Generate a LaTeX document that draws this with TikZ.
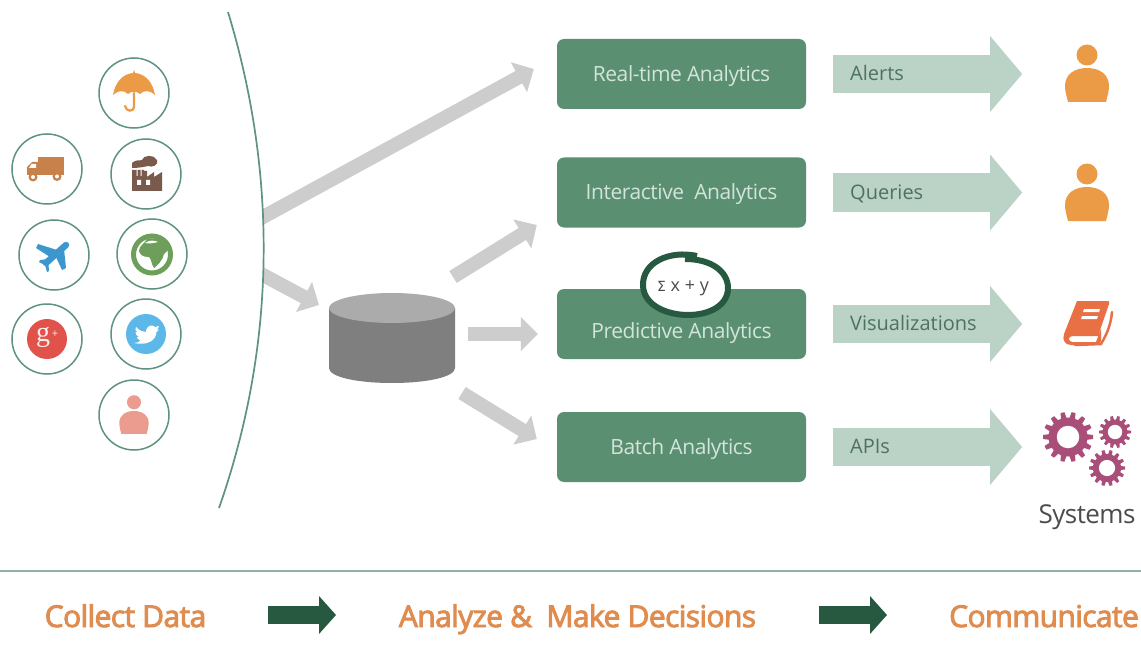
\documentclass[tikz,border=0pt]{standalone}
\usepackage{fontspec}
\setmainfont{Open Sans}
\newfontfamily\tightf[LetterSpace=-2]{Open Sans}
\newfontfamily\semib[FakeBold=3,LetterSpace=-2]{Open Sans}
\usetikzlibrary{arrows.meta}
\definecolor{ringc}{HTML}{5F9280}
\definecolor{boxc}{HTML}{5A8F72}
\definecolor{boxt}{HTML}{D3E4DA}
\definecolor{lightc}{HTML}{BBD2C6}
\definecolor{lightt}{HTML}{4E7262}
\definecolor{grayc}{HTML}{CDCDCD}
\definecolor{darkg}{HTML}{26593F}
\definecolor{orangec}{HTML}{EB9A45}
\definecolor{botc}{HTML}{E08C4E}
\definecolor{salmon}{HTML}{EC9C8E}
\definecolor{brownc}{HTML}{C8814A}
\definecolor{factc}{HTML}{7B5A4E}
\definecolor{planec}{HTML}{3D97CF}
\definecolor{globec}{HTML}{6E9F5A}
\definecolor{gred}{HTML}{E0524A}
\definecolor{twc}{HTML}{5CB8E8}
\definecolor{bookc}{HTML}{E96F45}
\definecolor{gearc}{HTML}{A84E78}
\definecolor{dbbody}{HTML}{7F7F7F}
\definecolor{dbtop}{HTML}{ABABAB}
\tikzset{
  ring/.style={circle,draw=ringc,line width=1.5pt,minimum size=70pt,inner sep=0pt},
  abox/.style={rounded corners=7pt,fill=boxc,text=boxt,minimum width=249pt,minimum height=70pt,text height=0pt,text depth=0pt,font=\tightf\fontsize{21}{24}\selectfont,inner sep=0pt},
  grayarrow/.style={draw=grayc,line width=14pt,-{Triangle[length=17pt,width=33pt]}},
  lightarrow/.style={draw=lightc,line width=38pt,-{Triangle[length=32pt,width=74pt]}},
  lighttext/.style={text=lightt,font=\fontsize{20}{24}\selectfont,anchor=west,inner sep=0pt},
  bottext/.style={text=botc,text height=0pt,text depth=0pt,font=\semib\fontsize{30}{34}\selectfont,inner sep=0pt},
  darkarrow/.style={draw=darkg,line width=18pt,-{Triangle[length=17pt,width=37pt]}},
  pics/personicon/.style={code={
    \fill[#1] (0,-19) circle (10.5);
    \fill[#1] (-19,28) -- (19,28) .. controls (21,20) and (22,16) .. (22,12)
      .. controls (22,0) and (12,-6) .. (0,-6) .. controls (-12,-6) and (-22,0) .. (-22,12)
      .. controls (-22,16) and (-21,20) .. (-19,28) -- cycle;}},
  pics/gearicon/.style={code={
    \fill[gearc] (0,0) circle (#1*0.78);
    \foreach \a in {0,25.7,...,340}{
      \fill[gearc,rotate=\a] (#1*0.7,-#1*0.12) -- (#1,-#1*0.08) -- (#1,#1*0.08) -- (#1*0.7,#1*0.12) -- cycle;}
    \fill[white] (0,0) circle (#1*0.45);}}
}
\begin{document}
\begin{tikzpicture}[x=1pt,y=-1pt]
\useasboundingbox (0,0) rectangle (1141,658);
\fill[white] (0,0) rectangle (1141,658);

% source circles
\node[ring] (umb) at (134,93) {};
\node[ring] (truck) at (47,169) {};
\node[ring] (fact) at (146,174) {};
\node[ring] (plane) at (54,255) {};
\node[ring] (globe) at (152,254) {};
\node[ring] (gplus) at (47,339) {};
\node[ring] (tw) at (146,334) {};
\node[ring] (pers) at (134,415) {};

% umbrella
\begin{scope}[shift={(umb.center)}]
\fill[orangec] (0,-23) -- (1,-20) .. controls (12,-19) and (19,-10) .. (21,2)
  .. controls (16,-3) and (10,-3) .. (6,1) .. controls (3,-2) and (-3,-2) .. (-6,1)
  .. controls (-10,-3) and (-16,-3) .. (-21,2) .. controls (-19,-10) and (-12,-19) .. (-1,-20) -- cycle;
\draw[orangec,line width=2.2pt,line cap=round] (0,0) -- (0,14) .. controls (0,19) and (-8,19) .. (-9,13);
\end{scope}

% truck
\begin{scope}[shift={(truck.center)}]
\fill[brownc] (-9,-12) rectangle (17,6);
\fill[brownc] (-9,-7) -- (-15,-7) -- (-20,-2) -- (-20,6) -- (-9,6) -- cycle;
\fill[white] (-15.5,-5) -- (-11,-5) -- (-11,-1) -- (-18,-1) -- cycle;
\fill[brownc] (-14,8) circle (4.5) (10,7.5) circle (4.5);
\fill[white] (-14,8) circle (2) (10,7.5) circle (2);
\end{scope}

% factory
\begin{scope}[shift={(fact.center)}]
\fill[factc] (-14,-4) -- (-14,17) -- (16,17) -- (16,-2) -- (8,3) -- (8,-2) -- (1,3) -- (1,-3) -- (-2,-3) -- (-2,-4) -- cycle;
\fill[factc] (-14,-6) -- (-14,-11) .. controls (-10,-15) and (-6,-13) .. (-4,-14) .. controls (-3,-19) and (8,-20) .. (11,-14) .. controls (13,-9) and (6,-6) .. (2,-8) .. controls (-2,-7) and (-8,-6) .. (-14,-6) -- cycle;
\fill[white] (-9,6) rectangle (-5,11) (0,6) rectangle (4,11);
\fill[white] (-9.5,-4) rectangle (-8.5,2) (-5.5,-4) rectangle (-4.5,2);
\end{scope}

% plane
\begin{scope}[shift={(plane.center)}]
\draw[planec,line width=6.5pt,line cap=round] (12,-10) -- (-8,8);
\fill[planec] (3,-5) -- (-16,-11) -- (-18,-7) -- (-4,2) -- cycle;
\fill[planec] (1,0) -- (8,15) -- (12,13) -- (10,-6) -- cycle;
\fill[planec] (-6,4) -- (-14,5) -- (-15,7) -- (-9,10) -- (-7,17) -- (-5,16) -- cycle;
\end{scope}

% globe
\begin{scope}[shift={(globe.center)}]
\draw[globec,line width=5pt] (0,0.5) circle (18.5);
\fill[globec] (-5,-15) .. controls (4,-17) and (12,-15) .. (17,-5) .. controls (15,-2) and (13,-2) .. (12,0)
  .. controls (11,6) and (5,12) .. (2,14) .. controls (-1,10) and (0,6) .. (-3,3)
  .. controls (-9,3) and (-12,1) .. (-13,-3) .. controls (-13,-8) and (-8,-10) .. (-5,-15) -- cycle;
\fill[white] (-7,-11) .. controls (-3,-14) and (2,-14) .. (6,-12) .. controls (2,-11) and (-3,-10) .. (-7,-11) -- cycle;
\end{scope}

% google plus
\node[circle,fill=gred,minimum size=40pt,inner sep=0pt] (gdisc) at (gplus.center) {};
\node[text=white!90!gred,font=\fontsize{28}{28}\selectfont,inner sep=0pt] (gtxt) at ([xshift=-4pt,yshift=2pt]gplus.center) {\fontspec{Liberation Serif}g};
\node[text=white!90!gred,font=\fontsize{11}{11}\selectfont,inner sep=0pt] (gpl) at ([xshift=8pt,yshift=5pt]gplus.center) {+};

% twitter
\node[circle,fill=twc,minimum size=40pt,inner sep=0pt] (twdisc) at (tw.center) {};
\begin{scope}[shift={(tw.center)}]
\fill[white] (-10,-7) .. controls (-6,-3) and (-3,-2) .. (0,-2) .. controls (0,-9) and (7,-10) .. (9,-7)
  -- (13,-8) -- (11,-4) -- (13,-4.5) -- (10.5,-2) .. controls (10,6) and (2,12) .. (-12,9)
  .. controls (-9,9) and (-7,8) .. (-5.5,6.5) .. controls (-8,6) and (-9,4) .. (-9,3)
  -- (-7,3) .. controls (-9,2) and (-11,0) .. (-10.5,-2) -- (-8.5,-1.5) .. controls (-11,-3) and (-11,-5) .. (-10,-7) -- cycle;
\end{scope}

% person in circle
\pic[scale=.67] at (pers.center) {personicon=salmon};

% database
\node[minimum width=126pt,minimum height=90pt,inner sep=0pt] (db) at (392,338) {};
\fill[dbbody] (329,308) -- (329,368) .. controls (329,377) and (357,383) .. (392,383)
  .. controls (427,383) and (455,377) .. (455,368) -- (455,308) -- cycle;
\fill[dbtop] (392,308) ellipse (63 and 15);

% analytics boxes
\node[abox] (rt) at (681.5,74) {\raisebox{-8pt}{Real-time Analytics}};
\node[abox] (ia) at (681.5,192.5) {\raisebox{-7pt}{Interactive\ \ Analytics}};
\node[abox] (pa) at (681.5,324) {\raisebox{-14pt}{Predictive Analytics}};
\node[abox] (ba) at (681.5,447) {\raisebox{-7pt}{Batch Analytics}};

% formula badge
\draw[darkg,line width=6pt,fill=white] (697,256) .. controls (670,250) and (642,262) .. (643,286)
  .. controls (644,306) and (668,315) .. (688,315) .. controls (710,315) and (728,305) .. (728,288)
  .. controls (728,272) and (712,259) .. (685,259);
\node[text=black!70,inner sep=0pt] (sig) at (683,288) {\fontspec{DejaVu Sans}\fontsize{14}{16}\selectfont Σ\fontspec{Open Sans}\fontsize{18}{20}\selectfont\ x + y};

% gray connectors
\coordinate (src1) at (255,221.4);
\coordinate (src2) at (255,270.7);
\coordinate (dbin) at (319,305);
\coordinate (o1) at (453,277);
\coordinate (o2) at (468,334);
\coordinate (o3) at (462,393);
\begin{scope}
\clip (263,0) rectangle (1141,658);
\draw[grayarrow] (src1) -- ([shift={(-23,-5)}]rt.west);
\draw[grayarrow] (src2) -- (dbin);
\end{scope}
\draw[grayarrow] (o1) -- ([shift={(-20,32.5)}]ia.west);
\draw[grayarrow] (o2) -- ([shift={(-19,10)}]pa.west);
\draw[grayarrow] (o3) -- ([shift={(-20,-8)}]ba.west);

% curved boundary
\draw[ringc,line width=1.7pt] (228,12) .. controls (276,170) and (278,340) .. (219,508);

% light arrows
\draw[lightarrow] ([xshift=27pt]rt.east) -- ([xshift=216pt]rt.east);
\draw[lightarrow] ([xshift=27pt]ia.east) -- ([xshift=216pt]ia.east);
\draw[lightarrow] ([xshift=27pt]pa.east) -- ([xshift=216pt]pa.east);
\draw[lightarrow] ([xshift=27pt]ba.east) -- ([xshift=216pt]ba.east);
\node[lighttext] (t1) at (850,73) {Alerts};
\node[lighttext] (t2) at (850,194) {Queries};
\node[lighttext] (t3) at (850,323) {Visualizations};
\node[lighttext] (t4) at (850,446) {APIs};

% consumers
\pic at (1087,74) {personicon=orangec};
\pic at (1087,193) {personicon=orangec};
\coordinate (bookc0) at (1087,324);
\begin{scope}[shift={(bookc0)}]
\draw[bookc,line width=2.5pt,line cap=round] (25,-12) .. controls (24,0) and (20,10) .. (14,20) -- (-12,21);
\fill[bookc] (-10,-23) -- (21,-23) .. controls (22,-23) and (23,-22) .. (22,-20) -- (11,12) -- (-15,12)
  .. controls (-19,13) and (-19,17) .. (-15,18) -- (9,18) -- (14,5) -- (14,17) .. controls (13,20) and (11,21) .. (9,21)
  -- (-16,21) .. controls (-22,21) and (-25,16) .. (-23,10) -- cycle;
\fill[white] (-3,-15) -- (13,-15) -- (12,-12) -- (-4,-12) -- cycle (-5,-8) -- (11,-8) -- (10,-5) -- (-6,-5) -- cycle;
\end{scope}

\pic at (1068,437) {gearicon=25};
\pic at (1115,432) {gearicon=16};
\pic at (1107,468) {gearicon=18};
\node[text=black!70,font=\tightf\fontsize{26}{30}\selectfont,inner sep=0pt] (sys) at (1087,517) {Systems};

% bottom band
\coordinate (bl) at (0,571);
\coordinate (br) at (1141,571);
\draw[ringc!70,line width=1.5pt] (bl) -- (br);
\node[bottext] (cd) at (125.5,615) {\raisebox{-12pt}{Collect Data}};
\node[bottext] (am) at (577.5,615) {\raisebox{-12pt}{Analyze \&\ \ Make Decisions}};
\node[bottext] (cm) at (1044,615) {\raisebox{-12pt}{Communicate}};
\coordinate (a1s) at (268,615);
\coordinate (a1e) at (336,615);
\coordinate (a2s) at (819,615);
\coordinate (a2e) at (887,615);
\draw[darkarrow] (a1s) -- (a1e);
\draw[darkarrow] (a2s) -- (a2e);
\end{tikzpicture}
\end{document}
